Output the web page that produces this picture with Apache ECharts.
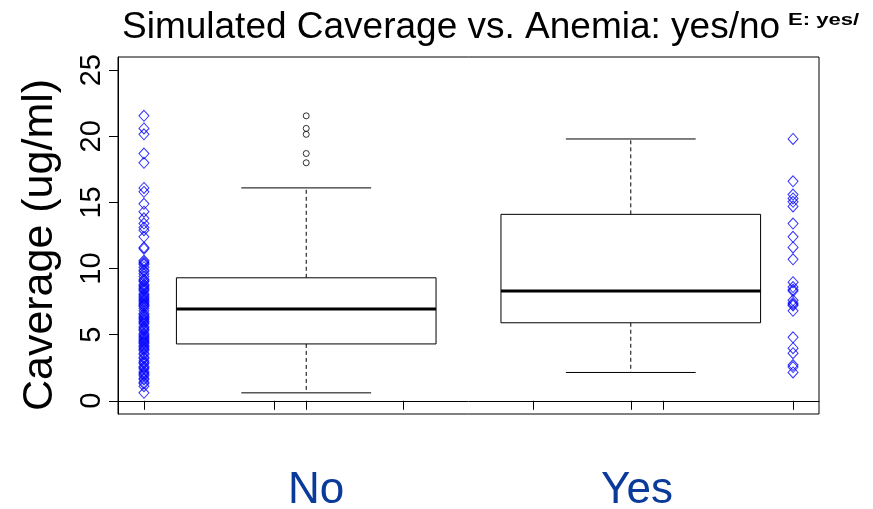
<!DOCTYPE html>
<html>
<head>
<meta charset="utf-8">
<script src="https://cdn.jsdelivr.net/npm/echarts@6/dist/echarts.min.js"></script>
<style>
  html, body { margin: 0; padding: 0; background: #fff; }
  #chart { width: 873px; height: 509px; }
</style>
</head>
<body>
<div id="chart"></div>
<script>
// Group names shown under the plot
const categories = ['No', 'Yes'];

// Strip positions of the raw observations and box positions (shared x scale)
const stripPositions = [1, 2];
const boxPositions = [1.25, 1.75];

// Raw Caverage observations (ug/ml) for anemia = no
const noValues = [
  21.55, 20.6, 20.15, 18.7, 18.0, 16.1, 15.8, 14.9, 14.3, 13.8, 13.4, 13.1, 12.9, 12.4, 11.6, 11.5,
  10.6, 10.5, 10.4, 10.3, 10.1, 9.9, 9.8, 9.6, 9.4,
  9.2, 9.1, 9.0, 8.8, 8.7, 8.6, 8.5, 8.4, 8.3, 8.1, 8.0, 7.9, 7.8, 7.7, 7.6, 7.5, 7.4, 7.3, 7.2, 7.15, 7.0,
  6.8, 6.6, 6.5, 6.4, 6.3, 6.2, 6.1, 6.0, 5.9, 5.8, 5.6, 5.5, 5.4, 5.3, 5.1, 5.0, 4.9, 4.8, 4.7, 4.6, 4.5, 4.4, 4.35,
  4.2, 4.1, 4.0, 3.9, 3.8, 3.6, 3.5, 3.3, 3.2, 3.0, 2.9, 2.8, 2.6, 2.5, 2.4, 2.2, 2.1, 2.0, 1.9, 1.7, 1.6, 1.4, 1.3, 1.1, 0.6
];

// Raw Caverage observations (ug/ml) for anemia = yes
const yesValues = [
  19.8, 16.6, 15.6, 15.3, 15.05, 14.7, 13.4, 12.4, 11.6, 10.7,
  8.97, 8.6, 8.4, 8.3, 7.6, 7.4, 7.3, 7.2, 6.8,
  4.8, 3.98, 3.6, 2.7, 2.55, 2.14
];

// Five-number summaries of the boxes: [No, Yes]
const boxLow    = [0.6, 2.14];
const boxQ1     = [4.3, 5.9];
const boxMedian = [6.95, 8.3];
const boxQ3     = [9.3, 14.1];
const boxHigh   = [16.1, 19.8];

// Axis ticks
const yTicks = [0, 5, 10, 15, 20, 25];
const xTicks = [1, 1.2, 1.4, 1.6, 1.8, 2, 1.25, 1.75];

const groups = [noValues, yesValues];

const stripData = [];
groups.forEach((vals, i) => vals.forEach(v => stripData.push([stripPositions[i], v])));

const boxData = boxPositions.map((p, i) => [p, boxLow[i], boxQ1[i], boxMedian[i], boxQ3[i], boxHigh[i]]);

// Points beyond the whiskers are drawn as outliers at the box position
const outlierData = [];
groups.forEach((vals, i) => vals.forEach(v => {
  if (v > boxHigh[i] || v < boxLow[i]) outlierData.push([boxPositions[i], v]);
}));

const BOX_HALF = 0.2;
const FONT = '"Liberation Sans", Arial, Helvetica, sans-serif';

function renderBox(params, api) {
  const pos = api.value(0);
  const lo = api.coord([pos, api.value(1)]);
  const q1 = api.coord([pos, api.value(2)]);
  const md = api.coord([pos, api.value(3)]);
  const q3 = api.coord([pos, api.value(4)]);
  const hi = api.coord([pos, api.value(5)]);
  const half = api.size([BOX_HALF, 0])[0];
  const cap = half / 2;
  const cx = lo[0];
  const dashed = { stroke: '#000', lineWidth: 1, lineDash: [4, 3] };
  const solid = { stroke: '#000', lineWidth: 1 };
  return {
    type: 'group',
    children: [
      { type: 'line', shape: { x1: cx, y1: q3[1], x2: cx, y2: hi[1] }, style: dashed },
      { type: 'line', shape: { x1: cx, y1: q1[1], x2: cx, y2: lo[1] }, style: dashed },
      { type: 'line', shape: { x1: cx - cap, y1: hi[1], x2: cx + cap, y2: hi[1] }, style: solid },
      { type: 'line', shape: { x1: cx - cap, y1: lo[1], x2: cx + cap, y2: lo[1] }, style: solid },
      { type: 'rect', shape: { x: cx - half, y: q3[1], width: 2 * half, height: q1[1] - q3[1] },
        style: { fill: '#fff', stroke: '#000', lineWidth: 1 } },
      { type: 'line', shape: { x1: cx - half, y1: md[1], x2: cx + half, y2: md[1] },
        style: { stroke: '#000', lineWidth: 3 } }
    ]
  };
}

const chart = echarts.init(document.getElementById('chart'), null, { renderer: 'canvas' });

chart.setOption({
  animation: false,
  backgroundColor: '#fff',
  grid: {
    left: 118, right: 54, top: 57, bottom: 95,
    show: true, borderColor: '#000', borderWidth: 1, backgroundColor: 'transparent'
  },
  xAxis: {
    type: 'value', min: 0.96, max: 2.04,
    axisLine: { show: true, lineStyle: { color: '#000', width: 1 } },
    axisTick: { show: true, length: 9, customValues: xTicks, lineStyle: { color: '#000', width: 1 } },
    axisLabel: { show: false },
    splitLine: { show: false }
  },
  yAxis: {
    type: 'value', min: -1, max: 26,
    axisLine: { show: true, lineStyle: { color: '#000', width: 1 } },
    axisTick: { show: true, length: 9, customValues: yTicks, lineStyle: { color: '#000', width: 1 } },
    axisLabel: {
      show: true, customValues: yTicks, rotate: 90, margin: 12,
      fontSize: 29, fontFamily: FONT, color: '#000'
    },
    splitLine: { show: false }
  },
  series: [
    {
      type: 'custom',
      renderItem: renderBox,
      encode: { x: 0, y: [1, 2, 3, 4, 5] },
      data: boxData,
      silent: true,
      z: 2
    },
    {
      type: 'scatter',
      data: outlierData,
      symbol: 'circle',
      symbolSize: 6,
      itemStyle: { color: 'rgba(0,0,0,0)', borderColor: '#000', borderWidth: 1 },
      silent: true,
      z: 3
    },
    {
      type: 'scatter',
      data: stripData,
      symbol: 'diamond',
      symbolSize: [10, 11],
      itemStyle: { color: 'rgba(0,0,0,0)', borderColor: '#0000ff', borderWidth: 1 },
      silent: true,
      z: 3
    }
  ],
  graphic: [
    {
      type: 'text', left: 122, top: 9,
      style: { text: 'Simulated Caverage vs. Anemia: yes/no', font: '37px ' + FONT, fill: '#000' }
    },
    {
      type: 'text', x: 788, y: 12, scaleX: 1.3,
      style: { text: 'E: yes/', font: 'bold 17px ' + FONT, fill: '#000' }
    },
    {
      type: 'text', x: 40, y: 245, rotation: Math.PI / 2,
      style: { text: 'Caverage (ug/ml)', font: '43px ' + FONT, fill: '#000', align: 'center', verticalAlign: 'middle' }
    },
    {
      type: 'text', x: 316, y: 491,
      style: { text: categories[0], font: '44px ' + FONT, fill: '#0a3a9a', align: 'center', verticalAlign: 'middle' }
    },
    {
      type: 'text', x: 637, y: 491,
      style: { text: categories[1], font: '44px ' + FONT, fill: '#0a3a9a', align: 'center', verticalAlign: 'middle' }
    }
  ]
});
</script>
</body>
</html>
